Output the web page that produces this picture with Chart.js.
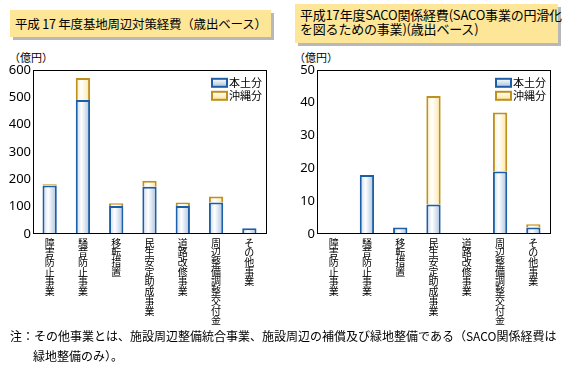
<!DOCTYPE html>
<html>
<head>
<meta charset="utf-8">
<script src="https://cdn.jsdelivr.net/npm/chart.js@4"></script>
<style>
body { margin: 0; width: 569px; height: 373px; background: #fff; position: relative; overflow: hidden;
       font-family: "Noto Sans CJK JP", "Noto Sans", sans-serif; color: #000; }
.title { position: absolute; background: #fde697; box-shadow: 3px 3px 0 #b8b8b8; font-size: 12.5px; line-height: 14px; white-space: nowrap; }
.unit { position: absolute; font-size: 11px; line-height: 11px; top: 52px; }
.chartBox { position: absolute; top: 60px; width: 270px; height: 269px; }
.note { position: absolute; left: 10px; top: 326px; font-size: 12px; line-height: 20px; white-space: nowrap; }
</style>
</head>
<body>
<div class="title" style="left:10px; top:10px; width:256px; height:27px; padding-left:5px; line-height:27px; letter-spacing:-0.2px;">平成 17 年度基地周辺対策経費（歳出ベース）</div>
<div class="title" style="left:295px; top:4px; width:258px; height:32px; padding:4px 0 3px 5px; font-size:13px; letter-spacing:-0.2px;">平成17年度SACO関係経費(SACO事業の円滑化<br>を図るための事業)(歳出ベース)</div>
<div class="unit" style="left:9px;">（億円）</div>
<div class="unit" style="left:294px;">（億円）</div>
<div class="chartBox" style="left:0px;"><canvas id="baseChart"></canvas></div>
<div class="chartBox" style="left:284px;"><canvas id="sacoChart"></canvas></div>
<div class="note">注：その他事業とは、施設周辺整備統合事業、施設周辺の補償及び緑地整備である（SACO関係経費は<br><span style="padding-left:23px;">緑地整備のみ）。</span></div>

<script>
const categories = ['障害防止事業', '騒音防止事業', '移転措置', '民生安定助成事業', '道路改修事業', '周辺整備調整交付金', 'その他事業'];
const seriesNames = ['本土分', '沖縄分'];

// 基地周辺対策経費（億円）
const baseHondo = [177, 490, 102, 173, 102, 115, 21];
const baseOkinawa = [5, 80, 10, 22, 13, 22, 0];
const baseTicks = { max: 600, step: 100 };

// SACO関係経費（億円）
const sacoHondo = [0, 18, 2, 9, 0, 19, 2];
const sacoOkinawa = [0, 0, 0, 33, 0, 18, 1];
const sacoTicks = { max: 50, step: 10 };

const BAR_PCT = 0.43;
const blueStops = ['#c4d5ea', '#ffffff', '#aac1de'];
const yellowStops = ['#fdefbd', '#ffffff', '#fde49a'];

function barFill(ctx, stops) {
    const chart = ctx.chart;
    const xs = chart.scales.x;
    if (!chart.chartArea || !xs) return stops[1];
    const cx = xs.getPixelForValue(ctx.dataIndex);
    const half = xs.width / categories.length * BAR_PCT / 2;
    const g = chart.ctx.createLinearGradient(cx - half, 0, cx + half, 0);
    g.addColorStop(0, stops[0]);
    g.addColorStop(0.4, stops[1]);
    g.addColorStop(1, stops[2]);
    return g;
}

// frame round the plot + legend in the top right corner
const framePlugin = {
    id: 'frame',
    afterDraw(chart) {
        const c = chart.ctx;
        const a = chart.chartArea;
        c.save();
        c.strokeStyle = '#000';
        c.lineWidth = 1;
        c.strokeRect(Math.round(a.left) + 0.5, Math.round(a.top) + 0.5,
                     Math.round(a.right - a.left), Math.round(a.bottom - a.top) - 1);

        const boxX = a.right - 54;
        chart.data.datasets.forEach((ds, i) => {
            const y = a.top + 9 + i * 13;
            const stops = i === 0 ? blueStops : yellowStops;
            const g = c.createLinearGradient(0, y, 0, y + 8);
            g.addColorStop(0, '#ffffff');
            g.addColorStop(1, stops[2]);
            c.fillStyle = g;
            c.fillRect(boxX, y, 15, 8);
            c.strokeStyle = ds.borderColor;
            c.lineWidth = 2;
            c.strokeRect(boxX, y, 15, 8);
            c.fillStyle = '#000';
            c.font = '11px "Noto Sans CJK JP"';
            c.textBaseline = 'middle';
            c.fillText(ds.label, boxX + 17, y + 4.5);
        });
        c.restore();
    }
};

function makeChart(id, hondo, okinawa, ticks) {
    return new Chart(document.getElementById(id), {
        type: 'bar',
        data: {
            labels: categories.map(s => s.split('')),
            datasets: [{
                label: seriesNames[0],
                data: hondo,
                backgroundColor: ctx => barFill(ctx, blueStops),
                borderColor: '#1d5fa6',
                borderWidth: ctx => (ctx.raw ? 2 : 0)
            }, {
                label: seriesNames[1],
                data: okinawa,
                backgroundColor: ctx => barFill(ctx, yellowStops),
                borderColor: '#c0901e',
                borderWidth: ctx => (ctx.raw ? 2 : 0)
            }]
        },
        options: {
            responsive: true,
            maintainAspectRatio: false,
            animation: false,
            layout: { padding: { top: 9, right: 4, left: 0, bottom: 0 } },
            datasets: { bar: { categoryPercentage: 1, barPercentage: BAR_PCT } },
            plugins: { legend: { display: false }, tooltip: { enabled: false } },
            scales: {
                x: {
                    stacked: true,
                    grid: { display: false, drawTicks: false },
                    border: { display: false },
                    afterFit(scale) { scale.height = 95; },
                    ticks: {
                        autoSkip: false,
                        maxRotation: 0,
                        padding: 4,
                        color: '#000',
                        font: { family: '"Noto Sans CJK JP"', size: 10, lineHeight: 0.97 }
                    }
                },
                y: {
                    stacked: true,
                    min: 0,
                    max: ticks.max,
                    grid: { display: false, drawTicks: false },
                    border: { display: false },
                    afterFit(scale) { scale.width = 33; },
                    ticks: {
                        stepSize: ticks.step,
                        padding: 2,
                        color: '#000',
                        font: { family: '"Noto Sans", sans-serif', size: 13 }
                    }
                }
            }
        },
        plugins: [framePlugin]
    });
}

makeChart('baseChart', baseHondo, baseOkinawa, baseTicks);
makeChart('sacoChart', sacoHondo, sacoOkinawa, sacoTicks);
</script>
</body>
</html>
